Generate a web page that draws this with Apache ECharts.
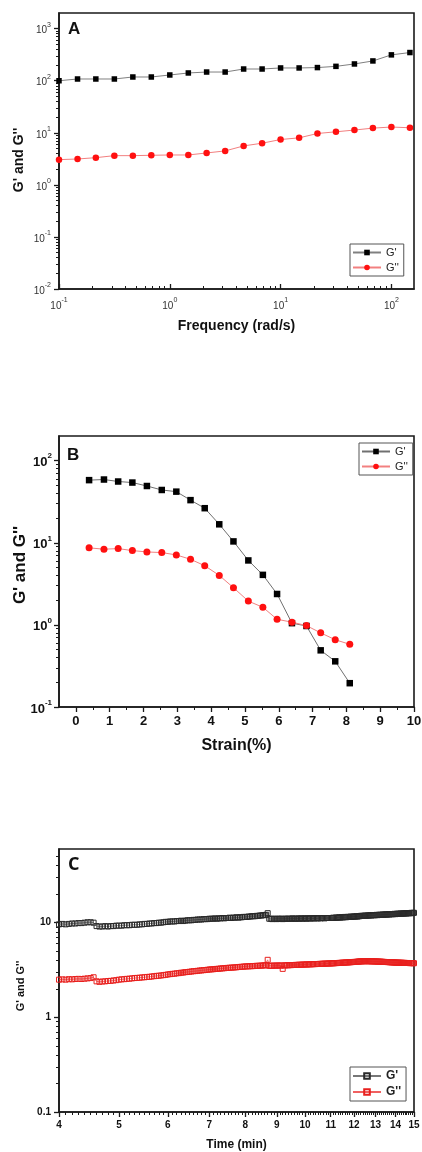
<!DOCTYPE html>
<html><head><meta charset="utf-8">
<script src="https://cdn.jsdelivr.net/npm/echarts@6/dist/echarts.min.js"></script>
<style>html,body{margin:0;padding:0;background:#fff}#c{width:422px;height:1152px}</style>
</head><body><div id="c"></div>
<script>
// ---------- Panel A : frequency sweep ----------
const freqA = [0.1,0.147,0.215,0.316,0.464,0.681,1,1.47,2.15,3.16,4.64,6.81,10,14.7,21.5,31.6,46.4,68.1,100,147];
const gPrimeA = [100,108,108,108,118,118,129,141,147,147,168,168,176,176,179,189,210,240,314,348];
const gDoubleA = [3.05,3.14,3.33,3.64,3.64,3.70,3.75,3.75,4.10,4.49,5.6,6.31,7.43,8.0,9.7,10.45,11.3,12.3,12.9,12.5];
const xTicksA = [0.1,1,10,100];
const yTicksA = [0.01,0.1,1,10,100,1000];

// ---------- Panel B : strain sweep ----------
const strainB = [0.39,0.83,1.25,1.67,2.10,2.54,2.97,3.39,3.81,4.24,4.66,5.10,5.53,5.95,6.39,6.82,7.24,7.67,8.10];
const gPrimeB = [58,59,55.8,54.2,49.2,44,42,33.1,26.4,16.8,10.4,6.1,4.07,2.38,1.05,0.97,0.49,0.36,0.195];
const gDoubleB = [8.68,8.36,8.5,8.04,7.74,7.6,7.12,6.3,5.26,4.01,2.84,1.95,1.64,1.17,1.08,0.98,0.80,0.66,0.58];
const xTicksB = [0,1,2,3,4,5,6,7,8,9,10];
const yTicksB = [0.1,1,10,100];

// ---------- Panel C : time sweep ----------
const timeC = [
4,4.05,4.1,4.15,4.2,4.25,4.3,4.35,4.4,4.45,4.5,4.55,4.6,4.65,4.7,4.75,4.8,4.85,4.9,4.95,
5,5.05,5.1,5.15,5.2,5.25,5.3,5.35,5.4,5.45,5.5,5.55,5.6,5.65,5.7,5.75,5.8,5.85,5.9,5.95,
6,6.05,6.1,6.15,6.2,6.25,6.3,6.35,6.4,6.45,6.5,6.55,6.6,6.65,6.7,6.75,6.8,6.85,6.9,6.95,
7,7.05,7.1,7.15,7.2,7.25,7.3,7.35,7.4,7.45,7.5,7.55,7.6,7.65,7.7,7.75,7.8,7.85,7.9,7.95,
8,8.05,8.1,8.15,8.2,8.25,8.3,8.35,8.4,8.45,8.5,8.55,8.6,8.65,8.7,8.75,8.8,8.85,8.9,8.95,
9,9.05,9.1,9.15,9.2,9.25,9.3,9.35,9.4,9.45,9.5,9.55,9.6,9.65,9.7,9.75,9.8,9.85,9.9,9.95,
10,10.05,10.1,10.15,10.2,10.25,10.3,10.35,10.4,10.45,10.5,10.55,10.6,10.65,10.7,10.75,10.8,10.85,10.9,10.95,
11,11.05,11.1,11.15,11.2,11.25,11.3,11.35,11.4,11.45,11.5,11.55,11.6,11.65,11.7,11.75,11.8,11.85,11.9,11.95,
12,12.05,12.1,12.15,12.2,12.25,12.3,12.35,12.4,12.45,12.5,12.55,12.6,12.65,12.7,12.75,12.8,12.85,12.9,12.95,
13,13.05,13.1,13.15,13.2,13.25,13.3,13.35,13.4,13.45,13.5,13.55,13.6,13.65,13.7,13.75,13.8,13.85,13.9,13.95,
14,14.05,14.1,14.15,14.2,14.25,14.3,14.35,14.4,14.45,14.5,14.55,14.6,14.65,14.7,14.75,14.8,14.85,14.9,14.95,
15];
const gPrimeC = [
9.6,9.7,9.6,9.7,9.8,9.8,9.9,9.9,10.0,10.1,10.1,10.0,
9.2,
9.1,9.1,9.2,9.1,9.2,9.2,9.3,9.3,
9.3,9.4,9.4,9.4,9.5,9.5,9.5,9.6,9.6,9.7,9.7,9.8,9.8,9.9,9.9,10.0,10.0,10.1,10.2,10.2,
10.3,10.3,10.3,10.4,10.4,10.5,10.4,10.5,10.6,10.6,10.6,10.7,10.7,10.8,10.8,10.8,10.9,10.9,10.9,11.0,
11.0,11.0,11.1,11.0,11.1,11.1,11.2,11.1,11.2,11.2,11.3,11.2,11.3,11.3,11.4,11.3,11.4,11.4,11.5,11.5,
11.5,11.6,11.6,11.7,11.7,11.7,11.8,11.8,11.9,11.9,12.0,12.0,12.1,
12.6,
11.0,
11.0,10.9,11.0,11.0,10.9,11.0,11.0,11.0,10.9,11.0,11.0,11.0,11.0,11.0,11.0,11.1,11.0,11.0,11.0,11.1,
11.0,11.1,11.0,11.1,11.1,11.0,11.1,11.1,11.1,11.1,11.1,11.1,11.2,11.1,11.1,11.2,11.1,11.2,11.2,11.1,
11.2,11.2,11.2,11.2,11.2,
11.2,11.3,11.2,11.3,11.3,11.3,11.4,11.3,11.4,11.4,11.4,11.5,11.4,11.5,11.5,11.5,11.6,11.5,11.6,11.6,
11.6,11.7,11.6,11.7,11.7,11.8,
11.8,11.8,11.8,11.9,11.8,11.9,11.9,11.9,12.0,11.9,12.0,12.0,12.0,12.0,12.1,12.0,12.1,12.1,12.1,12.1,
12.2,12.1,12.2,12.2,12.2,12.2,12.3,12.2,12.3,12.3,12.3,12.3,12.4,12.3,12.4,12.4,12.4,12.4,12.5,12.4,
12.5,12.5,12.5,12.5,12.6,12.5,12.6,12.6,12.6,12.6,12.7,12.6,12.7,12.7];
const gDoubleC = [
2.50,2.52,2.50,2.53,2.52,2.54,2.55,2.54,2.56,2.58,2.60,
2.65,
2.40,
2.37,2.39,2.40,2.42,2.43,2.45,2.47,2.50,
2.52,2.53,2.55,2.56,2.58,2.60,2.61,2.62,2.64,2.65,2.67,2.68,2.70,2.72,2.74,2.75,2.77,2.79,2.81,2.84,
2.86,2.88,2.89,2.92,2.93,2.96,2.97,3.00,3.01,3.03,3.05,3.07,3.08,3.10,3.12,3.13,3.15,3.16,3.18,3.20,
3.21,3.22,3.24,3.25,3.26,3.28,3.29,3.30,3.32,3.33,3.34,3.35,3.36,3.37,3.38,3.40,3.41,3.42,3.43,3.45,
3.45,3.46,3.47,3.47,3.48,3.49,3.50,3.50,3.51,3.52,3.53,3.54,3.55,
4.05,
3.50,
3.50,3.51,3.52,3.51,3.52,3.53,3.52,3.53,3.25,3.54,3.54,3.55,3.55,3.56,3.56,3.57,3.57,3.58,3.58,3.59,
3.59,3.60,3.60,3.61,3.61,3.62,3.62,3.63,3.63,3.64,3.64,3.65,3.65,3.66,3.66,3.67,3.67,3.68,3.68,3.69,
3.69,3.70,3.70,3.71,3.71,
3.72,3.72,3.73,3.74,3.74,3.75,3.76,3.76,3.77,3.78,3.78,3.79,3.80,3.80,3.81,3.82,3.82,3.83,3.84,3.85,
3.85,3.86,3.87,3.88,3.89,3.90,
3.90,3.91,3.92,3.91,3.92,3.92,3.91,3.92,3.91,3.90,3.91,3.90,3.90,3.89,3.89,3.88,3.88,3.87,3.87,3.86,
3.86,3.85,3.85,3.84,3.84,3.83,3.83,3.82,3.82,3.81,3.81,3.80,3.80,3.79,3.79,3.78,3.78,3.78,3.77,3.77,
3.77,3.76,3.76,3.76,3.75,3.75,3.75,3.75,3.74,3.74,3.74,3.74,3.73,3.73];
const xTicksC = [4,5,6,7,8,9,10,11,12,13,14,15];
const yTicksC = [0.1,1,10];

// ---------- helpers ----------
const FONT = '"Liberation Sans", Arial, sans-serif';
function minorLog(decades, maxV) {
  const out = [];
  decades.forEach(d => { for (let k = 2; k <= 9; k++) { const v = +(k * d).toPrecision(3); if (v < maxV) out.push(v); } });
  return out;
}
function sup(v) { const e = Math.round(Math.log10(v)); return '{b|10}{s|' + e + '}'; }
function pairs(xs, ys) { return xs.map((x, i) => [x, ys[i]]); }

const minorXA = minorLog([0.1, 1, 10, 100], 160);
const minorYA = minorLog([0.01, 0.1, 1, 10, 100, 1000], 2000);
const minorXB = [0.5,1.5,2.5,3.5,4.5,5.5,6.5,7.5,8.5,9.5];
const minorYB = minorLog([0.1, 1, 10, 100], 200);
const minorYC = minorLog([0.1, 1, 10], 60);
const minorXC = [];
for (let t = 41; t < 150; t++) { if (t % 10) minorXC.push(t / 10); }

const AX = '#1a1a1a';
function richA(size, sz, bold, color) {
  return {
    b: { fontSize: size, fontWeight: bold ? 'bold' : 'normal', fontFamily: FONT, color: color, verticalAlign: 'bottom', lineHeight: size + 4 },
    s: { fontSize: sz, fontWeight: bold ? 'bold' : 'normal', fontFamily: FONT, color: color, verticalAlign: 'top', lineHeight: sz }
  };
}
function majorAxis(o) {
  return Object.assign({
    axisLine: { show: true, onZero: false, lineStyle: { color: AX, width: 1.6 } },
    splitLine: { show: false },
    nameLocation: 'middle'
  }, o);
}
function minorAxis(o, inside, len) {
  return Object.assign({
    axisLine: { show: false, onZero: false },
    axisLabel: { show: false },
    splitLine: { show: false },
    axisTick: { show: true, inside: inside, length: len, customValues: o.ticks, lineStyle: { color: AX, width: 1 } }
  }, o, { ticks: undefined });
}

const chart = echarts.init(document.getElementById('c'), null, { renderer: 'canvas' });
const gridBase = { show: true, borderColor: AX, borderWidth: 1.6, backgroundColor: 'transparent', outerBoundsMode: 'none' };

const option = {
  animation: false,
  backgroundColor: '#fff',
  textStyle: { fontFamily: FONT },
  grid: [
    Object.assign({ left: 59, top: 13, width: 355, height: 276 }, gridBase),
    Object.assign({ left: 59, top: 436, width: 355, height: 271 }, gridBase),
    Object.assign({ left: 59, top: 849, width: 355, height: 263 }, gridBase)
  ],
  xAxis: [
    majorAxis({ gridIndex: 0, type: 'log', logBase: 10, min: 0.1, max: 160, position: 'bottom',
      axisTick: { inside: true, length: 5, customValues: xTicksA, lineStyle: { color: AX, width: 1.3 } },
      axisLabel: { customValues: xTicksA, formatter: sup, margin: 8, rich: richA(10, 7, false, '#333') },
      name: 'Frequency (rad/s)', nameGap: 30,
      nameTextStyle: { fontSize: 14, fontWeight: 'bold', color: '#111', fontFamily: FONT } }),
    minorAxis({ gridIndex: 0, type: 'log', logBase: 10, min: 0.1, max: 160, position: 'bottom', ticks: minorXA }, true, 3),
    majorAxis({ gridIndex: 1, type: 'value', min: -0.5, max: 10, position: 'bottom',
      axisTick: { inside: false, length: 5, customValues: xTicksB, lineStyle: { color: AX, width: 1.3 } },
      axisLabel: { customValues: xTicksB, margin: 8, fontSize: 13, fontWeight: 'bold', color: '#111', fontFamily: FONT },
      name: 'Strain(%)', nameGap: 31,
      nameTextStyle: { fontSize: 16, fontWeight: 'bold', color: '#111', fontFamily: FONT } }),
    minorAxis({ gridIndex: 1, type: 'value', min: -0.5, max: 10, position: 'bottom', ticks: minorXB }, false, 3),
    majorAxis({ gridIndex: 2, type: 'log', logBase: 10, min: 4, max: 15, position: 'bottom',
      axisTick: { inside: false, length: 5, customValues: xTicksC, lineStyle: { color: AX, width: 1.3 } },
      axisLabel: { customValues: xTicksC, margin: 8, fontSize: 10, fontWeight: 'bold', color: '#111', fontFamily: FONT },
      name: 'Time (min)', nameGap: 27,
      nameTextStyle: { fontSize: 12, fontWeight: 'bold', color: '#111', fontFamily: FONT } }),
    minorAxis({ gridIndex: 2, type: 'log', logBase: 10, min: 4, max: 15, position: 'bottom', ticks: minorXC }, false, 3)
  ],
  yAxis: [
    majorAxis({ gridIndex: 0, type: 'log', logBase: 10, min: 0.01, max: 2000, position: 'left',
      axisTick: { inside: false, length: 5, customValues: yTicksA, lineStyle: { color: AX, width: 1.3 } },
      axisLabel: { customValues: yTicksA, formatter: sup, margin: 8, rich: richA(10, 7, false, '#333') } }),
    minorAxis({ gridIndex: 0, type: 'log', logBase: 10, min: 0.01, max: 2000, position: 'left', ticks: minorYA }, false, 3),
    majorAxis({ gridIndex: 1, type: 'log', logBase: 10, min: 0.1, max: 200, position: 'left',
      axisTick: { inside: false, length: 5, customValues: yTicksB, lineStyle: { color: AX, width: 1.3 } },
      axisLabel: { customValues: yTicksB, formatter: sup, margin: 7, rich: richA(13, 8, true, '#111') } }),
    minorAxis({ gridIndex: 1, type: 'log', logBase: 10, min: 0.1, max: 200, position: 'left', ticks: minorYB }, false, 3),
    majorAxis({ gridIndex: 2, type: 'log', logBase: 10, min: 0.1, max: 60, position: 'left',
      axisTick: { inside: false, length: 5, customValues: yTicksC, lineStyle: { color: AX, width: 1.3 } },
      axisLabel: { customValues: yTicksC, margin: 8, fontSize: 10, fontWeight: 'bold', color: '#111', fontFamily: FONT } }),
    minorAxis({ gridIndex: 2, type: 'log', logBase: 10, min: 0.1, max: 60, position: 'left', ticks: minorYC }, false, 3)
  ],
  legend: [
    { left: 350, top: 244, orient: 'vertical', data: ["A|G'", "A|G''"] },
    { left: 359, top: 443, orient: 'vertical', data: ["B|G'", "B|G''"] },
    { left: 350, top: 1067, orient: 'vertical', data: ["C|G'", "C|G''"], textStyle: { fontWeight: 'bold', fontSize: 12 } }
  ].map(l => Object.assign({
    itemWidth: 28, itemHeight: 7, itemGap: 4, padding: [3, 5, 3, 2],
    borderColor: '#555', borderWidth: 1, borderRadius: 0, backgroundColor: '#fff',
    formatter: n => n.split('|')[1],
    selectedMode: false
  }, l, { textStyle: Object.assign({ fontSize: 11, color: '#222', fontFamily: FONT }, l.textStyle || {}) })),
  series: [
    { name: "A|G'", type: 'line', xAxisIndex: 0, yAxisIndex: 0, data: pairs(freqA, gPrimeA),
      symbol: 'rect', symbolSize: 5.5, itemStyle: { color: '#000' }, lineStyle: { color: '#808080', width: 1 }, clip: false },
    { name: "A|G''", type: 'line', xAxisIndex: 0, yAxisIndex: 0, data: pairs(freqA, gDoubleA),
      symbol: 'circle', symbolSize: 6.5, itemStyle: { color: '#ff1010' }, lineStyle: { color: '#f28080', width: 1 }, clip: false },
    { name: "B|G'", type: 'line', xAxisIndex: 2, yAxisIndex: 2, data: pairs(strainB, gPrimeB),
      symbol: 'rect', symbolSize: 6.5, itemStyle: { color: '#000' }, lineStyle: { color: '#707070', width: 1 } },
    { name: "B|G''", type: 'line', xAxisIndex: 2, yAxisIndex: 2, data: pairs(strainB, gDoubleB),
      symbol: 'circle', symbolSize: 7, itemStyle: { color: '#ff1010' }, lineStyle: { color: '#f28080', width: 1 } },
    { name: "C|G'", type: 'line', xAxisIndex: 4, yAxisIndex: 4, data: pairs(timeC, gPrimeC),
      symbol: 'rect', symbolSize: 5, itemStyle: { color: 'rgba(255,255,255,0)', borderColor: '#2a2a2a', borderWidth: 1 },
      lineStyle: { color: '#777', width: 0.8 } },
    { name: "C|G''", type: 'line', xAxisIndex: 4, yAxisIndex: 4, data: pairs(timeC, gDoubleC),
      symbol: 'rect', symbolSize: 5, itemStyle: { color: 'rgba(255,255,255,0)', borderColor: '#e8201e', borderWidth: 1 },
      lineStyle: { color: '#f06060', width: 0.8 } }
  ],
  graphic: [
    { type: 'text', left: 68, top: 21, style: { text: 'A', font: 'bold 17px ' + FONT, fill: '#111' } },
    { type: 'text', left: 67, top: 447, style: { text: 'B', font: 'bold 17px ' + FONT, fill: '#111' } },
    { type: 'text', left: 68, top: 856, style: { text: 'C', font: 'bold 18px "Open Sans", ' + FONT, fill: '#111' } },
    { type: 'text', x: 19, y: 160, rotation: Math.PI / 2,
      style: { text: "G' and G''", font: 'bold 14px ' + FONT, fill: '#111', align: 'center', verticalAlign: 'middle' } },
    { type: 'text', x: 20, y: 565, rotation: Math.PI / 2,
      style: { text: "G' and G''", font: 'bold 17px ' + FONT, fill: '#111', align: 'center', verticalAlign: 'middle' } },
    { type: 'text', x: 21, y: 986, rotation: Math.PI / 2,
      style: { text: "G' and G''", font: 'bold 11px ' + FONT, fill: '#111', align: 'center', verticalAlign: 'middle' } }
  ]
};
chart.setOption(option);
</script>
</body></html>
